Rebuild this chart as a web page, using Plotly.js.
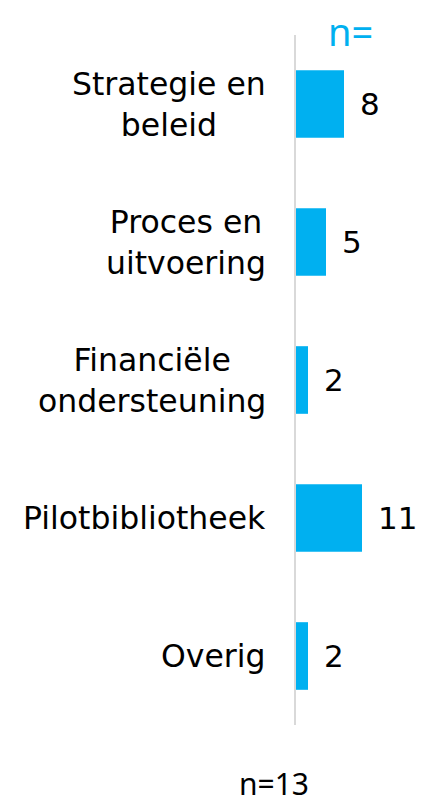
<!DOCTYPE html>
<html>
<head>
<meta charset="utf-8">
<script src="https://cdn.plot.ly/plotly-3.0.1.min.js"></script>
<style>html,body{margin:0;padding:0;background:#fff;}#chart{width:421px;height:806px;}</style>
</head>
<body>
<div id="chart"></div>
<script>
var categories = ["Strategie en<br>beleid", "Proces en<br>uitvoering", "Financiële<br>ondersteuning", "Pilotbibliotheek", "Overig"];
var values = [8, 5, 2, 11, 2];
var headerLabel = "n=";
var footerLabel = "n=13";

var barColor = "#00B0F0";
var labelFont = "DejaVu Sans, Verdana, sans-serif";

var annotations = values.map(function (v, i) {
  return {
    x: v, y: categories[i], xref: "x", yref: "y",
    text: String(v), showarrow: false,
    xanchor: "left", yanchor: "middle", xshift: 14,
    font: {family: labelFont, size: 31, color: "#000"}
  };
});
categories.forEach(function (c) {
  annotations.push({
    x: 0, y: c, xref: "paper", yref: "y",
    text: c, showarrow: false, align: "center",
    xanchor: "right", yanchor: "middle", xshift: -28,
    font: {family: labelFont, size: 31.5, color: "#000"}
  });
});
annotations.push({
  x: 0.45, y: 1.006, xref: "paper", yref: "paper",
  text: headerLabel, showarrow: false,
  xanchor: "center", yanchor: "middle",
  font: {family: "Noto Sans, sans-serif", size: 38, color: barColor}
});
annotations.push({
  x: -0.183, y: -0.085, xref: "paper", yref: "paper",
  text: footerLabel, showarrow: false,
  xanchor: "center", yanchor: "middle",
  font: {family: "Noto Sans, sans-serif", size: 30, color: "#000"}
});

var data = [{
  type: "bar",
  orientation: "h",
  x: values,
  y: categories,
  marker: {color: barColor},
  hoverinfo: "none"
}];

var layout = {
  width: 421, height: 806,
  margin: {l: 296, r: 5, t: 35, b: 81, pad: 0},
  paper_bgcolor: "#fff", plot_bgcolor: "#fff",
  showlegend: false,
  bargap: 0.51,
  xaxis: {range: [0, 20], visible: false, fixedrange: true},
  yaxis: {
    type: "category",
    autorange: false, range: [4.5, -0.5],
    showline: true, linecolor: "#d9d9d9", linewidth: 2,
    showgrid: false, zeroline: false,
    showticklabels: false, ticks: "",
    fixedrange: true
  },
  annotations: annotations
};

Plotly.newPlot("chart", data, layout, {displayModeBar: false, staticPlot: true});
</script>
</body>
</html>
